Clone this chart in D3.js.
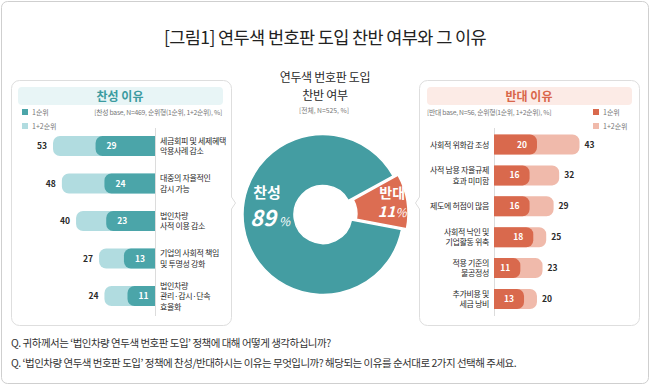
<!DOCTYPE html>
<html><head><meta charset="utf-8">
<script src="https://cdn.jsdelivr.net/npm/d3@7"></script>
<style>
body{margin:0;background:#fff;}
svg{display:block;font-family:"Noto Sans CJK KR","Noto Sans",sans-serif;}
</style>
</head><body>
<svg id="c" width="650" height="386"></svg>
<script>
// ---------- data ----------
const chartTitle = "[그림1] 연두색 번호판 도입 찬반 여부와 그 이유";
const pieTitle = ["연두색 번호판 도입", "찬반 여부"];
const pieNote = "[전체, N=525, %]";
const pieLabels = ["찬성", "반대"];
const pieValues = [89, 11];

const proTitle = "찬성 이유";
const proNote = "[찬성 base, N=469, 순위형(1순위, 1+2순위), %]";
const proCategories = [
  ["세금회피 및 세제혜택", "악용사례 감소"],
  ["대중의 자율적인", "감시 가능"],
  ["법인차량", "사적 이용 감소"],
  ["기업의 사회적 책임", "및 투명성 강화"],
  ["법인차량", "관리·감시·단속", "효율화"]
];
const proFirst = [29, 24, 23, 13, 11];
const proTotal = [53, 48, 40, 27, 24];

const conTitle = "반대 이유";
const conNote = "[반대 base, N=56, 순위형(1순위, 1+2순위), %]";
const conCategories = [
  ["사회적 위화감 조성"],
  ["사적 남용 자율규제", "효과 미미함"],
  ["제도에 허점이 많음"],
  ["사회적 낙인 및", "기업활동 위축"],
  ["적용 기준의", "불공정성"],
  ["추가비용 및", "세금 낭비"]
];
const conFirst = [20, 16, 16, 18, 11, 13];
const conTotal = [43, 32, 29, 25, 23, 20];

const legendLabels = ["1순위", "1+2순위"];
const questions = [
  "Q. 귀하께서는 ‘법인차량 연두색 번호판 도입’ 정책에 대해 어떻게 생각하십니까?",
  "Q. ‘법인차량 연두색 번호판 도입’ 정책에 찬성/반대하시는 이유는 무엇입니까? 해당되는 이유를 순서대로 2가지 선택해 주세요."
];

// ---------- styles ----------
const C = {
  tealPie: "#449da2", tealDark: "#4ba5a9", tealLight: "#b1dce0", tealHeadBg: "#e8f5f6", tealText: "#3b9ba0",
  redPie: "#dc6d52", redDark: "#d9694d", redLight: "#f0baab", redHeadBg: "#fcebe6", redText: "#d9664a",
  text: "#2a2a2a", sub: "#777", border: "#dedede", axis: "#dcdcdc"
};

const svg = d3.select("#c");

// outer frame
svg.append("rect").attr("x", 1.5).attr("y", 1.5).attr("width", 647).attr("height", 382)
  .attr("rx", 6).attr("fill", "#fff").attr("stroke", "#cfcfcf");

// title
svg.append("text").attr("x", 325).attr("y", 44).attr("text-anchor", "middle")
  .attr("font-size", 17.5).attr("fill", "#222").attr("letter-spacing", -0.6).text(chartTitle);

// ---------- panels ----------
function panelPath(x0, x1, y0, y1, r, side, ny) {
  const p = d3.path();
  p.moveTo(x0 + r, y0);
  p.lineTo(x1 - r, y0);
  p.arcTo(x1, y0, x1, y0 + r, r);
  if (side === "right") { p.lineTo(x1, ny - 6); p.lineTo(x1 + 4, ny); p.lineTo(x1, ny + 6); }
  p.lineTo(x1, y1 - r);
  p.arcTo(x1, y1, x1 - r, y1, r);
  p.lineTo(x0 + r, y1);
  p.arcTo(x0, y1, x0, y1 - r, r);
  if (side === "left") { p.lineTo(x0, ny + 6); p.lineTo(x0 - 4, ny); p.lineTo(x0, ny - 6); }
  p.lineTo(x0, y0 + r);
  p.arcTo(x0, y0, x0 + r, y0, r);
  p.closePath();
  return p.toString();
}
svg.append("path").attr("d", panelPath(11.5, 231.5, 80.5, 325.5, 8, "right", 203))
  .attr("fill", "#fff").attr("stroke", C.border);
svg.append("path").attr("d", panelPath(419.5, 639.5, 80.5, 325.5, 8, "left", 203))
  .attr("fill", "#fff").attr("stroke", C.border);

// headers
svg.append("rect").attr("x", 18).attr("y", 87).attr("width", 205).attr("height", 18).attr("rx", 4).attr("fill", C.tealHeadBg);
svg.append("text").attr("x", 120).attr("y", 100.5).attr("text-anchor", "middle").attr("font-size", 12)
  .attr("font-weight", 700).attr("fill", C.tealText).text(proTitle);
svg.append("rect").attr("x", 427).attr("y", 87).attr("width", 205).attr("height", 18).attr("rx", 4).attr("fill", C.redHeadBg);
svg.append("text").attr("x", 529).attr("y", 100.5).attr("text-anchor", "middle").attr("font-size", 12)
  .attr("font-weight", 700).attr("fill", C.redText).text(conTitle);

// legends
function legend(x, colors) {
  legendLabels.forEach((l, i) => {
    const y = 109 + i * 14;
    svg.append("rect").attr("x", x).attr("y", y).attr("width", 6).attr("height", 6).attr("fill", colors[i]);
    svg.append("text").attr("x", x + 10).attr("y", y + 5.5).attr("font-size", 7).attr("fill", C.sub).text(l);
  });
}
legend(22, [C.tealDark, C.tealLight]);
legend(593, [C.redDark, C.redLight]);
svg.append("text").attr("x", 222).attr("y", 114.5).attr("text-anchor", "end").attr("font-size", 6.8)
  .attr("fill", C.sub).attr("letter-spacing", -0.25).text(proNote);
svg.append("text").attr("x", 427).attr("y", 114.5).attr("text-anchor", "start").attr("font-size", 6.8)
  .attr("fill", C.sub).attr("letter-spacing", -0.25).text(conNote);

// ---------- bars ----------
function barPath(ax, w, yc, h, dir, r) {
  const y0 = yc - h / 2, y1 = yc + h / 2, xe = ax + dir * w;
  r = Math.min(r, w / 2, h / 2);
  const sweep = dir > 0 ? 1 : 0;
  return `M${ax},${y0}L${xe - dir * r},${y0}A${r},${r} 0 0 ${sweep} ${xe},${y0 + r}` +
    `L${xe},${y1 - r}A${r},${r} 0 0 ${sweep} ${xe - dir * r},${y1}L${ax},${y1}Z`;
}
const barH = 20, barR = 7;

// left (pro) bars
const axL = 155;
const xL = d3.scaleLinear().domain([0, 53]).range([8, 102]);
const yL = d3.scalePoint().domain(d3.range(proCategories.length)).range([146, 296]);
svg.append("line").attr("x1", axL + 0.5).attr("x2", axL + 0.5).attr("y1", 128).attr("y2", 316).attr("stroke", C.axis);
const gL = svg.append("g");
proCategories.forEach((cat, i) => {
  const yc = yL(i);
  gL.append("path").attr("d", barPath(axL, xL(proTotal[i]), yc, barH, -1, barR)).attr("fill", C.tealLight);
  gL.append("path").attr("d", barPath(axL, xL(proFirst[i]), yc, barH, -1, barR)).attr("fill", C.tealDark);
  gL.append("text").attr("x", axL - xL(proFirst[i]) + 16).attr("y", yc + 3).attr("text-anchor", "middle")
    .attr("font-size", 8.5).attr("font-weight", 700).attr("fill", "#fff").text(proFirst[i]);
  gL.append("text").attr("x", axL - xL(proTotal[i]) - 6).attr("y", yc + 3).attr("text-anchor", "end")
    .attr("font-size", 8.5).attr("font-weight", 700).attr("fill", C.text).text(proTotal[i]);
  const lh = 10.5, top = yc - (cat.length - 1) * lh / 2;
  cat.forEach((line, j) => {
    gL.append("text").attr("x", 160).attr("y", top + j * lh + 3).attr("font-size", 8)
      .attr("fill", C.text).attr("letter-spacing", -0.35).text(line);
  });
});

// right (con) bars
const axR = 494;
const xR = d3.scaleLinear().domain([0, 43]).range([6, 85.5]);
const yR = d3.scalePoint().domain(d3.range(conCategories.length)).range([144.5, 299]);
svg.append("line").attr("x1", axR + 0.5).attr("x2", axR + 0.5).attr("y1", 128).attr("y2", 316).attr("stroke", C.axis);
const gR = svg.append("g");
conCategories.forEach((cat, i) => {
  const yc = yR(i);
  gR.append("path").attr("d", barPath(axR, xR(conTotal[i]), yc, barH, 1, barR)).attr("fill", C.redLight);
  gR.append("path").attr("d", barPath(axR, xR(conFirst[i]), yc, barH, 1, barR)).attr("fill", C.redDark);
  gR.append("text").attr("x", axR + xR(conFirst[i]) - 15).attr("y", yc + 3).attr("text-anchor", "middle")
    .attr("font-size", 8.5).attr("font-weight", 700).attr("fill", "#fff").text(conFirst[i]);
  gR.append("text").attr("x", axR + xR(conTotal[i]) + 5).attr("y", yc + 3).attr("text-anchor", "start")
    .attr("font-size", 8.5).attr("font-weight", 700).attr("fill", C.text).text(conTotal[i]);
  const lh = 10.5, top = yc - (cat.length - 1) * lh / 2;
  cat.forEach((line, j) => {
    gR.append("text").attr("x", 489).attr("y", top + j * lh + 3).attr("text-anchor", "end").attr("font-size", 8)
      .attr("fill", C.text).attr("letter-spacing", -0.35).text(line);
  });
});

// ---------- donut ----------
svg.append("text").attr("x", 325).attr("y", 82).attr("text-anchor", "middle").attr("font-size", 12)
  .attr("fill", C.text).attr("letter-spacing", -0.3).text(pieTitle[0]);
svg.append("text").attr("x", 325).attr("y", 99.5).attr("text-anchor", "middle").attr("font-size", 12)
  .attr("fill", C.text).attr("letter-spacing", -0.3).text(pieTitle[1]);
svg.append("text").attr("x", 324).attr("y", 113).attr("text-anchor", "middle").attr("font-size", 6.8)
  .attr("fill", C.sub).text(pieNote);

const cx = 323, cy = 214.5;
const startA = (100.8 / 180) * Math.PI;
const pie = d3.pie().sort(null).startAngle(startA).endAngle(startA + 2 * Math.PI);
const arcs = pie(pieValues);
const arc = d3.arc().innerRadius(29).outerRadius(80);
const pieColors = [C.tealPie, C.redPie];
const gP = svg.append("g").attr("transform", `translate(${cx},${cy})`);
arcs.forEach((a, i) => {
  const mid = (a.startAngle + a.endAngle) / 2;
  const off = i === 1 ? 5 : 0;
  const [dx, dy] = d3.pointRadial(mid, off);
  gP.append("path").attr("d", arc(a)).attr("transform", `translate(${dx},${dy})`)
    .attr("fill", pieColors[i]).attr("stroke", "#fff").attr("stroke-width", 1.5);
});
// labels
const labB = arcs[1];
const [bx, by] = d3.pointRadial((labB.startAngle + labB.endAngle) / 2, 70);
gP.append("text").attr("x", bx).attr("y", by - 6).attr("text-anchor", "middle").attr("font-size", 14)
  .attr("font-weight", 700).attr("fill", "#fff").text(pieLabels[1]);
const tB = gP.append("text").attr("x", bx).attr("y", by + 13).attr("text-anchor", "middle")
  .attr("font-style", "italic").attr("fill", "#fff");
tB.append("tspan").attr("font-size", 15).attr("font-weight", 700).text(pieValues[1]);
tB.append("tspan").attr("font-size", 12).text("%");

gP.append("text").attr("x", -56).attr("y", -17).attr("text-anchor", "middle").attr("font-size", 15)
  .attr("font-weight", 700).attr("fill", "#fff").text(pieLabels[0]);
const tA = gP.append("text").attr("x", -53).attr("y", 11).attr("text-anchor", "middle")
  .attr("font-style", "italic").attr("fill", "#fff");
tA.append("tspan").attr("font-size", 22).attr("font-weight", 700).text(pieValues[0]);
tA.append("tspan").attr("font-size", 12).attr("dx", 3).text("%");

// ---------- questions ----------
questions.forEach((q, i) => {
  svg.append("text").attr("x", 11).attr("y", 347 + i * 20).attr("font-size", 10.5)
    .attr("fill", "#333").attr("letter-spacing", -0.5).text(q);
});
</script>
</body></html>
